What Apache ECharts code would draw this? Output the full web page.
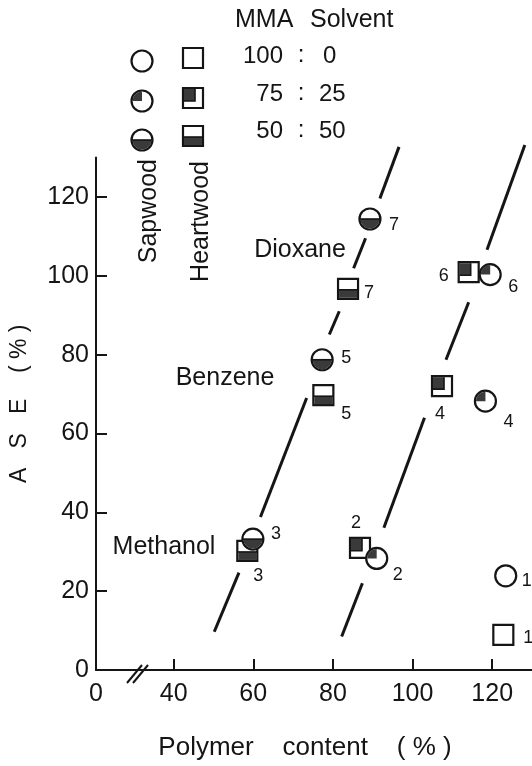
<!DOCTYPE html>
<html>
<head>
<meta charset="utf-8">
<style>
  html, body { margin: 0; padding: 0; background: #fff; }
  #chart { width: 532px; height: 766px; }
</style>
</head>
<body>
<div id="chart"></div>
<script src="https://cdn.jsdelivr.net/npm/echarts@6/dist/echarts.min.js"></script>
<script>
// point numbers 1..7 ; MMA:solvent mix of each point
const pointNo = ['1', '2', '3', '4', '5', '6', '7']
const mixKind = ['open', 'quarter', 'half', 'quarter', 'half', 'quarter', 'half']

// Sapwood (circles)
const sapX = [123.4, 91.0, 59.9, 118.3, 77.3, 119.5, 89.3]
const sapY = [23.9, 28.3, 33.2, 68.2, 78.7, 100.3, 114.4]
// Heartwood (squares)
const heartX = [122.8, 86.8, 58.5, 107.4, 77.6, 114.1, 83.8]
const heartY = [8.9, 31.0, 30.2, 72.0, 69.7, 100.9, 96.7]

// the two fitted lines, drawn broken around the marks
const lineLeft = [
  [[50.2, 9.7], [56.4, 24.7]],
  [[61.8, 38.8], [73.4, 69.0]],
  [[79.1, 85.1], [81.6, 91.0]],
  [[85.2, 101.9], [88.2, 109.5]],
  [[91.8, 119.6], [96.6, 132.7]]
]
const lineRight = [
  [[82.2, 8.5], [87.4, 22.0]],
  [[92.8, 36.1], [103.0, 64.0]],
  [[108.4, 78.7], [114.1, 93.3]],
  [[118.7, 106.6], [128.2, 133.2]]
]

const xTicks = [40, 60, 80, 100, 120]
const yTicks = [0, 20, 40, 60, 80, 100, 120]
const xMin = 20.5  // axis is broken, origin reads 0

const legendRows = [['100', '0'], ['75', '25'], ['50', '50']]
const legendKinds = ['open', 'quarter', 'half']

// label offsets (px) from each mark
const sapLabelOff = [[21, 5], [21, 17], [23, -5], [23, 21], [24, -2], [23, 12], [24, 6]]
const heartLabelOff = [[25, 3], [-4, -25], [11, 25], [-2, 28], [23, 19], [-25, 4], [21, 4]]

const font = 'Liberation Sans, Arial, sans-serif'
const ink = '#151515'
const shade = '#3a3a3a'

var myChart = echarts.init(document.getElementById('chart'))

function markerEls(shape, kind, cx, cy) {
  let els = []
  if (shape === 'circle') {
    let r = 10.5
    els.push({ type: 'circle', shape: { cx: cx, cy: cy, r: r }, style: { fill: '#fff', stroke: ink, lineWidth: 2.2 } })
    if (kind === 'quarter') {
      els.push({ type: 'sector', shape: { cx: cx, cy: cy, r0: 0, r: r - 1, startAngle: Math.PI, endAngle: Math.PI * 1.5 }, style: { fill: shade } })
    }
    if (kind === 'half') {
      els.push({ type: 'sector', shape: { cx: cx, cy: cy, r0: 0, r: r - 1, startAngle: 0, endAngle: Math.PI }, style: { fill: shade } })
      els.push({ type: 'line', shape: { x1: cx - r, y1: cy, x2: cx + r, y2: cy }, style: { stroke: ink, lineWidth: 1.6 } })
    }
  } else {
    let s = 10
    els.push({ type: 'rect', shape: { x: cx - s, y: cy - s, width: 2 * s, height: 2 * s }, style: { fill: '#fff', stroke: ink, lineWidth: 2.2 } })
    if (kind === 'quarter') {
      els.push({ type: 'rect', shape: { x: cx - s + 1, y: cy - s + 1, width: s + 1, height: s + 2 }, style: { fill: shade } })
      els.push({ type: 'polyline', shape: { points: [[cx - s + 1, cy + 3], [cx + 2, cy + 3], [cx + 2, cy - s + 1]] }, style: { stroke: ink, lineWidth: 1.6, fill: null } })
    }
    if (kind === 'half') {
      els.push({ type: 'rect', shape: { x: cx - s + 1, y: cy + 1, width: 2 * s - 2, height: s - 2 }, style: { fill: shade } })
      els.push({ type: 'line', shape: { x1: cx - s, y1: cy + 1, x2: cx + s, y2: cy + 1 }, style: { stroke: ink, lineWidth: 1.6 } })
    }
  }
  return els
}

function markSeries(name, shape, xs, ys, offs) {
  let data = xs.map((x, i) => [x, ys[i], i])
  return {
    name: name,
    type: 'custom',
    data: data,
    clip: false,
    z: shape === 'circle' ? 4 : 3,
    renderItem: function (params, api) {
      let i = api.value(2)
      let p = api.coord([api.value(0), api.value(1)])
      let children = markerEls(shape, mixKind[i], p[0], p[1])
      children.push({
        type: 'text',
        x: p[0] + offs[i][0],
        y: p[1] + offs[i][1],
        style: { text: pointNo[i], fill: ink, fontSize: 18, fontFamily: font, align: 'center', verticalAlign: 'middle' }
      })
      return { type: 'group', children: children }
    }
  }
}

function legendGraphic() {
  let els = []
  let circleY = [61, 101, 140]
  let squareY = [58, 98, 136]
  let textY = [56, 94, 131]
  legendKinds.forEach((k, i) => {
    markerEls('circle', k, 142, circleY[i]).forEach(e => els.push(e))
    markerEls('square', k, 193, squareY[i]).forEach(e => els.push(e))
    let st = { fill: ink, fontSize: 24, fontFamily: font, verticalAlign: 'middle' }
    els.push({ type: 'text', x: 283, y: textY[i], style: Object.assign({ text: legendRows[i][0], align: 'right' }, st) })
    els.push({ type: 'text', x: 301, y: textY[i] - 1, style: Object.assign({ text: ':', align: 'center' }, st) })
    els.push({ type: 'text', x: i === 0 ? 323 : 319, y: textY[i], style: Object.assign({ text: legendRows[i][1], align: 'left' }, st) })
  })
  let big = { fill: ink, fontSize: 25, fontFamily: font }
  els.push({ type: 'text', x: 235, y: 20, style: Object.assign({ text: 'MMA', align: 'left', verticalAlign: 'middle' }, big) })
  els.push({ type: 'text', x: 310, y: 20, style: Object.assign({ text: 'Solvent', align: 'left', verticalAlign: 'middle' }, big) })
  els.push({ type: 'text', x: 149, y: 159, rotation: Math.PI / 2, style: Object.assign({ text: 'Sapwood', align: 'right', verticalAlign: 'middle' }, big) })
  els.push({ type: 'text', x: 201, y: 161, rotation: Math.PI / 2, style: Object.assign({ text: 'Heartwood', align: 'right', verticalAlign: 'middle' }, big) })
  // solvent names
  els.push({ type: 'text', x: 300, y: 250, style: Object.assign({ text: 'Dioxane', align: 'center', verticalAlign: 'middle' }, big) })
  els.push({ type: 'text', x: 225, y: 378, style: Object.assign({ text: 'Benzene', align: 'center', verticalAlign: 'middle' }, big) })
  els.push({ type: 'text', x: 164, y: 547, style: Object.assign({ text: 'Methanol', align: 'center', verticalAlign: 'middle' }, big) })
  // axis break
  els.push({ type: 'line', shape: { x1: 127, y1: 683, x2: 142, y2: 665 }, style: { stroke: ink, lineWidth: 2 } })
  els.push({ type: 'line', shape: { x1: 133, y1: 683, x2: 148, y2: 665 }, style: { stroke: ink, lineWidth: 2 } })
  return els
}

function getOptions() {
  let segs = lineLeft.concat(lineRight).map(s => ({ coords: s }))
  return {
    animation: false,
    backgroundColor: '#fff',
    grid: { left: 94, right: 0, top: 157.5, bottom: 95 },
    xAxis: {
      type: 'value',
      min: xMin,
      max: 130,
      name: 'Polymer    content    ( % )',
      nameLocation: 'middle',
      nameGap: 65,
      nameTextStyle: { color: ink, fontSize: 26, fontFamily: font, padding: [0, 18, 0, 0] },
      axisLine: { lineStyle: { color: ink, width: 2 } },
      axisTick: { inside: true, length: 11, lineStyle: { color: ink, width: 2 }, customValues: xTicks },
      axisLabel: {
        color: ink, fontSize: 25, fontFamily: font, margin: 12,
        customValues: [xMin].concat(xTicks),
        formatter: v => (v < 30 ? '0' : String(v))
      },
      splitLine: { show: false }
    },
    yAxis: {
      type: 'value',
      min: 0,
      max: 130,
      name: 'A   S   E    ( % )',
      nameLocation: 'middle',
      nameRotate: 90,
      nameGap: 65,
      nameTextStyle: { color: ink, fontSize: 23, fontFamily: font, padding: [0, 0, 0, 20] },
      axisLine: { lineStyle: { color: ink, width: 2 } },
      axisTick: { inside: true, length: 11, lineStyle: { color: ink, width: 2 }, customValues: yTicks },
      axisLabel: { color: ink, fontSize: 25, fontFamily: font, margin: 7, customValues: yTicks },
      splitLine: { show: false }
    },
    graphic: { elements: legendGraphic() },
    series: [
      {
        type: 'lines',
        coordinateSystem: 'cartesian2d',
        clip: false,
        z: 2,
        lineStyle: { color: ink, width: 3, opacity: 1, curveness: 0 },
        data: segs
      },
      markSeries('Heartwood', 'square', heartX, heartY, heartLabelOff),
      markSeries('Sapwood', 'circle', sapX, sapY, sapLabelOff)
    ]
  }
}

myChart.setOption(getOptions())
</script>
</body>
</html>
